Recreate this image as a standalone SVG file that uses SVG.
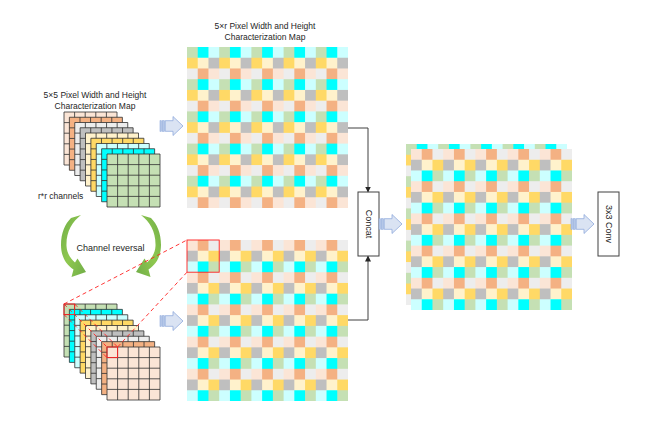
<svg xmlns="http://www.w3.org/2000/svg" xmlns:xlink="http://www.w3.org/1999/xlink" width="657" height="421" viewBox="0 0 657 421">
<style>
.lbl{font-family:"Liberation Sans",Arial,sans-serif;font-size:8.5px;fill:#262626}
.lbl9{font-family:"Liberation Sans",Arial,sans-serif;font-size:9px;fill:#262626}
.box{fill:#ffffff;stroke:#404040;stroke-width:1}
.conn{fill:none;stroke:#404040;stroke-width:1}
.lgrid{fill:none;stroke:#303030;stroke-width:0.8}
.red{fill:none;stroke:#ff2020;stroke-width:0.9}
.reddash{fill:none;stroke:#ff2020;stroke-width:0.9;stroke-dasharray:4 3}
.barrow{fill:#dae3f3;stroke:#8faadc;stroke-width:0.8}
.bstripe{fill:#b4c7e7;stroke:#8faadc;stroke-width:0.6}
.garrow{fill:url(#gg)}
</style>
<defs>
<linearGradient id="gg" x1="0" y1="0" x2="1" y2="1">
<stop offset="0" stop-color="#70ad47"/>
<stop offset="0.5" stop-color="#8fc850"/>
<stop offset="1" stop-color="#70ad47"/>
</linearGradient>
<pattern id="patA" patternUnits="userSpaceOnUse" x="0" y="0" width="32.2" height="32.2">
<rect x="0" y="0" width="10.8" height="10.8" fill="#c5e0b4"/>
<rect x="10.733" y="0" width="10.8" height="10.8" fill="#00ffff"/>
<rect x="21.467" y="0" width="10.8" height="10.8" fill="#ccffff"/>
<rect x="0" y="10.733" width="10.8" height="10.8" fill="#ffd966"/>
<rect x="10.733" y="10.733" width="10.8" height="10.8" fill="#fff2cc"/>
<rect x="21.467" y="10.733" width="10.8" height="10.8" fill="#bfbfbf"/>
<rect x="0" y="21.467" width="10.8" height="10.8" fill="#ededed"/>
<rect x="10.733" y="21.467" width="10.8" height="10.8" fill="#f4b183"/>
<rect x="21.467" y="21.467" width="10.8" height="10.8" fill="#fbe5d6"/>
</pattern>
<pattern id="patB" patternUnits="userSpaceOnUse" x="0" y="0" width="32.2" height="32.2">
<rect x="0" y="0" width="10.8" height="10.8" fill="#fbe5d6"/>
<rect x="10.733" y="0" width="10.8" height="10.8" fill="#f4b183"/>
<rect x="21.467" y="0" width="10.8" height="10.8" fill="#ededed"/>
<rect x="0" y="10.733" width="10.8" height="10.8" fill="#bfbfbf"/>
<rect x="10.733" y="10.733" width="10.8" height="10.8" fill="#fff2cc"/>
<rect x="21.467" y="10.733" width="10.8" height="10.8" fill="#ffd966"/>
<rect x="0" y="21.467" width="10.8" height="10.8" fill="#ccffff"/>
<rect x="10.733" y="21.467" width="10.8" height="10.8" fill="#00ffff"/>
<rect x="21.467" y="21.467" width="10.8" height="10.8" fill="#c5e0b4"/>
</pattern>
<path id="lgp" class="lgrid" d="M0,0H53V53H0Z M10.6,0V53 M21.2,0V53 M31.8,0V53 M42.4,0V53 M0,10.6H53 M0,21.2H53 M0,31.8H53 M0,42.4H53"/>
<g id="barrow">
<path class="barrow" d="M5.2,-5.3 H13 V-9.5 L23,0 L13,9.5 V5.3 H5.2 Z"/>
<rect class="bstripe" x="0" y="-5.3" width="1.3" height="10.6"/>
<rect class="bstripe" x="2.3" y="-5.3" width="2" height="10.6"/>
</g>
<path id="garr" class="garrow" d="M81,215 C72,222 66,232 66.5,246 C67,254 71,259 75,262.5 L77.5,258.5 L86,272 L71.5,277 L73.5,269.5 C65,264 61,255 61,245 C61,233 65,224 71,218 Z"/>
<marker id="ah" markerWidth="6" markerHeight="6" refX="5" refY="3" orient="auto" markerUnits="userSpaceOnUse">
<path d="M0,0 L6,3 L0,6 Z" fill="#262626"/>
</marker>
</defs>
<rect x="0" y="0" width="657" height="421" fill="#ffffff"/>

<g id="label-left">
<text class="lbl" x="95" y="97.5" text-anchor="middle">5×5 Pixel Width and Height</text>
<text class="lbl" x="95" y="109" text-anchor="middle">Characterization Map</text>
</g>
<g id="label-top">
<text class="lbl" x="265" y="28.5" text-anchor="middle">5×r Pixel Width and Height</text>
<text class="lbl" x="265" y="39.5" text-anchor="middle">Characterization Map</text>
</g>

<g id="stack-top">
<rect x="64" y="112" width="53" height="53" fill="#fbe5d6"/><use xlink:href="#lgp" x="64" y="112"/>
<rect x="69.375" y="117.25" width="53" height="53" fill="#f4b183"/><use xlink:href="#lgp" x="69.375" y="117.25"/>
<rect x="74.75" y="122.5" width="53" height="53" fill="#ededed"/><use xlink:href="#lgp" x="74.75" y="122.5"/>
<rect x="80.125" y="127.75" width="53" height="53" fill="#bfbfbf"/><use xlink:href="#lgp" x="80.125" y="127.75"/>
<rect x="85.5" y="133" width="53" height="53" fill="#fff2cc"/><use xlink:href="#lgp" x="85.5" y="133"/>
<rect x="90.875" y="138.25" width="53" height="53" fill="#ffd966"/><use xlink:href="#lgp" x="90.875" y="138.25"/>
<rect x="96.25" y="143.5" width="53" height="53" fill="#ccffff"/><use xlink:href="#lgp" x="96.25" y="143.5"/>
<rect x="101.625" y="148.75" width="53" height="53" fill="#00ffff"/><use xlink:href="#lgp" x="101.625" y="148.75"/>
<rect x="107" y="154" width="53" height="53" fill="#c5e0b4"/><use xlink:href="#lgp" x="107" y="154"/>
<text class="lbl" x="38" y="198.5">r*r channels</text>
</g>

<g id="stack-bottom">
<rect x="64" y="304" width="53" height="53" fill="#c5e0b4"/><use xlink:href="#lgp" x="64" y="304"/>
<rect x="69.375" y="309.375" width="53" height="53" fill="#00ffff"/><use xlink:href="#lgp" x="69.375" y="309.375"/>
<rect x="74.75" y="314.75" width="53" height="53" fill="#ccffff"/><use xlink:href="#lgp" x="74.75" y="314.75"/>
<rect x="80.125" y="320.125" width="53" height="53" fill="#ffd966"/><use xlink:href="#lgp" x="80.125" y="320.125"/>
<rect x="85.5" y="325.5" width="53" height="53" fill="#fff2cc"/><use xlink:href="#lgp" x="85.5" y="325.5"/>
<rect x="90.875" y="330.875" width="53" height="53" fill="#bfbfbf"/><use xlink:href="#lgp" x="90.875" y="330.875"/>
<rect x="96.25" y="336.25" width="53" height="53" fill="#ededed"/><use xlink:href="#lgp" x="96.25" y="336.25"/>
<rect x="101.625" y="341.625" width="53" height="53" fill="#f4b183"/><use xlink:href="#lgp" x="101.625" y="341.625"/>
<rect x="107" y="347" width="53" height="53" fill="#fbe5d6"/><use xlink:href="#lgp" x="107" y="347"/>
<rect class="red" x="64" y="304" width="10.6" height="10.6"/>
<rect class="red" x="107" y="347" width="10.6" height="10.6"/>
<path class="reddash" d="M64,304 L107,347 M74.6,304 L117.6,347 M64,314.6 L107,357.6"/>
</g>

<g id="channel-reversal">
<use xlink:href="#garr"/>
<use xlink:href="#garr" transform="translate(222,0) scale(-1,1)"/>
<text class="lbl9" x="110.5" y="251" text-anchor="middle">Channel reversal</text>
</g>

<g id="map-top" transform="translate(187,47)">
<rect x="0" y="0" width="161" height="161" fill="url(#patA)"/>
</g>
<g id="map-bottom" transform="translate(187,240)">
<rect x="0" y="0" width="161" height="161" fill="url(#patB)"/>
<rect class="red" x="0" y="0" width="32.2" height="32.2"/>
</g>
<g id="map-right">
<g transform="translate(406,144)"><rect x="0" y="0" width="161" height="161" fill="url(#patA)"/></g>
<g transform="translate(411,149)"><rect x="0" y="0" width="161" height="161" fill="url(#patB)"/></g>
</g>

<g id="concat">
<rect class="box" x="358" y="192" width="21" height="64"/>
<text class="lbl9" transform="translate(368.5,224) rotate(90)" text-anchor="middle" dominant-baseline="central">Concat</text>
</g>
<g id="conv">
<rect class="box" x="598" y="192" width="21" height="64"/>
<text class="lbl9" transform="translate(608.5,224) rotate(90)" text-anchor="middle" dominant-baseline="central">3x3 Conv</text>
</g>

<g id="connectors">
<path class="conn" d="M348,128 H368 V191.5" marker-end="url(#ah)"/>
<path class="conn" d="M348,320 H368 V256.5" marker-end="url(#ah)"/>
<path class="reddash" d="M64,304 L187,240 M117.6,347 L187,272.2"/>
<use xlink:href="#barrow" transform="translate(160,126)"/>
<use xlink:href="#barrow" transform="translate(160,321)"/>
<use xlink:href="#barrow" transform="translate(379,224)"/>
<use xlink:href="#barrow" transform="translate(571,224)"/>
</g>
</svg>
